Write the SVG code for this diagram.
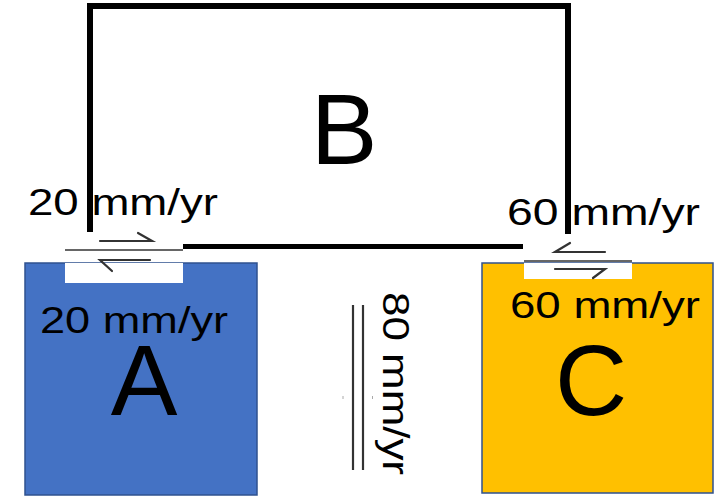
<svg xmlns="http://www.w3.org/2000/svg" width="725" height="497" viewBox="0 0 725 497">
  <style>
    .lbl { font-family: "Liberation Sans", Arial, sans-serif; font-size: 36px; fill: #000; }
    .big { font-family: "Liberation Sans", Arial, sans-serif; font-size: 100px; fill: #000; text-anchor: middle; }
    .boxB { fill: none; stroke: #000; stroke-width: 6; stroke-linecap: square; }
    .thin { stroke: #333; stroke-width: 1.6; fill: none; }
    .half { stroke: #333; stroke-width: 2.2; fill: none; stroke-linecap: round; }
    .plate { stroke: #2F528F; stroke-width: 1.5; }
  </style>
  <rect width="725" height="497" fill="#fff"/>

  <g id="nodeA">
    <rect class="plate" x="25" y="263" width="232" height="232" fill="#4472C4"/>
    <text class="big" x="144" y="415">A</text>
  </g>

  <g id="nodeC">
    <rect class="plate" x="482" y="263" width="231" height="230" fill="#FFC000"/>
    <text class="big" x="591" y="415">C</text>
  </g>

  <g id="nodeB">
    <path class="boxB" d="M90,229 V6 H568 V231"/>
    <line x1="183" y1="246.5" x2="523" y2="246.5" stroke="#000" stroke-width="5"/>
    <text class="big" x="344" y="164">B</text>
  </g>

  <g id="connectors">
    <g id="faultAB">
      <rect x="65" y="263" width="118" height="20" fill="#fff"/>
      <line class="thin" x1="65" y1="250" x2="183" y2="250"/>
      <path class="half" d="M100,241 H152 L138,233"/>
      <path class="half" d="M150,260 H100 L112,271"/>
    </g>
    <g id="faultBC">
      <rect x="524" y="263" width="108" height="16" fill="#fff"/>
      <line class="thin" x1="524" y1="261" x2="632" y2="261"/>
      <path class="half" d="M605,252 H555 L570,243"/>
      <path class="half" d="M555,269 H605 L593,278"/>
    </g>
    <g id="faultAC">
      <line x1="353" y1="305" x2="353" y2="470" stroke="#333" stroke-width="2.2"/>
      <line x1="363" y1="305" x2="363" y2="470" stroke="#333" stroke-width="2.2"/>
      <line x1="343" y1="396" x2="343" y2="399" stroke="#aaa" stroke-width="1"/>
      <line x1="372.5" y1="396" x2="372.5" y2="399" stroke="#aaa" stroke-width="1"/>
    </g>
  </g>

  <g id="labels">
    <text class="lbl" x="28" y="215" textLength="190" lengthAdjust="spacingAndGlyphs">20 mm/yr</text>
    <text class="lbl" x="40" y="333" textLength="188" lengthAdjust="spacingAndGlyphs">20 mm/yr</text>
    <text class="lbl" x="507" y="225" textLength="193" lengthAdjust="spacingAndGlyphs">60 mm/yr</text>
    <text class="lbl" x="510" y="318" textLength="190" lengthAdjust="spacingAndGlyphs">60 mm/yr</text>
    <text class="lbl" transform="translate(383,292) rotate(90)" x="0" y="0" textLength="183" lengthAdjust="spacingAndGlyphs">80 mm/yr</text>
  </g>
</svg>
